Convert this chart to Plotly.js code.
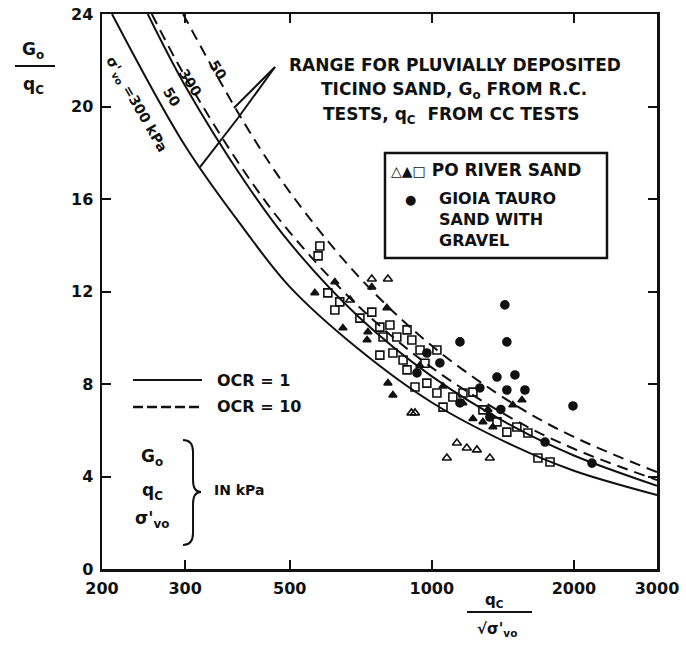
<!DOCTYPE html>
<html><head><meta charset="utf-8">
<script src="https://cdn.plot.ly/plotly-3.0.1.min.js"></script>
<style>body{margin:0;background:#fff}#c{width:686px;height:656px}</style>
</head><body><div id="c"></div>
<script>
// x tick labels
const xTicks = [200, 300, 500, 1000, 2000, 3000];
const yTicks = [0, 4, 8, 12, 16, 20, 24];

// Curves (Ticino sand range)
const curveX_L  = [210, 300, 400, 500, 700, 1000, 1500, 2000, 3000];   // sigma'vo=300, OCR=1
const curveY_L  = [24.0, 18.3, 14.7, 12.2, 9.5, 7.2, 5.3, 4.25, 3.2];
const curveX_M  = [250, 300, 400, 500, 700, 1000, 1500, 2000, 3000];   // sigma'vo=50, OCR=1
const curveY_M  = [24.0, 20.9, 16.8, 14.1, 10.9, 8.33, 6.12, 4.91, 3.6];
const curveX_D3 = [255, 300, 400, 500, 700, 1000, 1500, 2000, 3000];   // sigma'vo=300, OCR=10
const curveY_D3 = [24.0, 21.3, 17.2, 14.56, 11.35, 8.71, 6.44, 5.2, 3.85];
const curveX_D5 = [297, 400, 500, 700, 1000, 1500, 2000, 3000];        // sigma'vo=50, OCR=10
const curveY_D5 = [24.0, 19.3, 16.3, 12.64, 9.65, 7.1, 5.71, 4.19];

// Po river sand - open triangles
const triOpenX = [746, 807, 921, 905, 1130, 1186, 1246, 1076, 1327, 671];
const triOpenY = [12.54, 12.54, 6.75, 6.75, 5.45, 5.23, 5.15, 4.80, 4.80, 11.63];
// Po river sand - filled triangles
const triFillX = [623, 565, 648, 803, 732, 729, 807, 827, 746, 1485, 1552, 1283, 1347, 1164, 1056, 943, 1315, 1222];
const triFillY = [12.41, 11.94, 10.42, 11.29, 10.25, 9.90, 8.04, 7.52, 12.19, 7.09, 7.31, 6.36, 6.14, 7.18, 7.9, 8.8, 6.9, 6.5];
// Po river sand - open squares
const sqX = [579, 574, 602, 623, 704, 746, 776, 815, 886, 788, 843, 907, 944, 1025, 776, 827, 869, 886, 976, 921, 1025, 1108, 1164, 1222, 1283, 1374, 1514, 1598, 1442, 1678, 1780, 638, 1056, 967];
const sqY = [13.97, 13.54, 11.94, 11.20, 10.85, 11.11, 10.46, 10.55, 10.34, 10.03, 10.03, 9.90, 9.47, 9.47, 9.25, 9.34, 9.04, 8.61, 8.04, 7.87, 7.61, 7.44, 7.61, 7.65, 6.88, 6.36, 6.14, 5.88, 5.92, 4.80, 4.63, 11.55, 7.0, 8.9];
// Gioia Tauro sand with gravel - filled circles
const gtX = [1428, 1442, 1147, 1374, 1500, 1442, 1575, 1264, 1991, 1737, 2184, 976, 1040, 930, 1147, 1327, 1400];
const gtY = [11.42, 9.82, 9.82, 8.30, 8.39, 7.74, 7.74, 7.83, 7.05, 5.49, 4.58, 9.34, 8.91, 8.48, 7.18, 6.57, 6.9];

const K = '#111';
function curve(x, y, dash) {
  return {x: x, y: y, mode: 'lines', type: 'scatter', hoverinfo: 'skip',
    line: {color: K, width: 2, dash: dash, shape: 'spline', smoothing: 1}};
}
function pts(x, y, sym, size) {
  return {x: x, y: y, mode: 'markers', type: 'scatter',
    marker: {symbol: sym, size: size, color: K, line: {color: K, width: 1.6}}};
}
const data = [
  curve(curveX_L, curveY_L, 'solid'),
  curve(curveX_M, curveY_M, 'solid'),
  curve(curveX_D3, curveY_D3, '11px,7px'),
  curve(curveX_D5, curveY_D5, '11px,7px'),
  pts(sqX, sqY, 'square-open', 8),
  pts(triOpenX, triOpenY, 'triangle-up-open', 8),
  pts(triFillX, triFillY, 'triangle-up', 7),
  pts(gtX, gtY, 'circle', 8)
];

const FAM = 'DejaVu Sans, Verdana, sans-serif';
const F = {family: FAM, size: 17, color: K, weight: 'bold'};
function ann(text, x, y, opts) {
  return Object.assign({text: text, x: x, y: y, xref: 'paper', yref: 'paper', showarrow: false,
    font: F, xanchor: 'center', yanchor: 'middle'}, opts || {});
}
function fs(size) { return Object.assign({}, F, {size: size}); }

const annotations = [
  ann('RANGE FOR PLUVIALLY DEPOSITED', 0.636, 0.908),
  ann('TICINO SAND, G<sub>o</sub> FROM R.C.', 0.634, 0.863),
  ann('TESTS, q<sub>C</sub>  FROM CC TESTS', 0.630, 0.818),
  ann('<span style="font-size:14px">△▲□</span> PO RIVER SAND', 0.517, 0.719, {xanchor: 'left'}),
  ann('●', 0.555, 0.665, {font: fs(13)}),
  ann('GIOIA TAURO<br>SAND WITH<br>GRAVEL', 0.604, 0.629, {xanchor: 'left', align: 'left', font: fs(16)}),
  ann('OCR = 1', 0.203, 0.3405, {xanchor: 'left', font: fs(16)}),
  ann('OCR = 10', 0.203, 0.2919, {xanchor: 'left', font: fs(16)}),
  ann('G<sub>o</sub>', 0.0901, 0.2018, {font: fs(17)}),
  ann('q<sub>C</sub>', 0.0901, 0.1405, {font: fs(17)}),
  ann('σ\'<sub>vo</sub>', 0.0901, 0.0883, {font: fs(17)}),
  ann('IN kPa', 0.198, 0.1423, {xanchor: 'left', font: fs(14)}),
  ann('σ\'<sub>vo</sub> =300 kPa', 0.062, 0.836, {textangle: 60, font: fs(14)}),
  ann('300', 0.1586, 0.8775, {textangle: 58, font: fs(14)}),
  ann('50', 0.1261, 0.8505, {textangle: 58, font: fs(14)}),
  ann('50', 0.209, 0.899, {textangle: 58, font: fs(14)}),
  ann('G<sub>o</sub>', -0.1243, 0.9351, {font: fs(17)}),
  ann('q<sub>C</sub>', -0.1243, 0.8703, {font: fs(17)}),
  ann('q<sub>C</sub>', 0.7081, -0.0559, {font: fs(15)}),
  ann('√σ\'<sub>vo</sub>', 0.7117, -0.1099, {font: fs(15)})
];

const LN = {color: K, width: 2};
const shapes = [
  // pointer lines from the range text to the curves
  {type: 'line', xref: 'paper', yref: 'paper', x0: 0.3117, y0: 0.9045, x1: 0.2378, y1: 0.8306, line: LN},
  {type: 'line', xref: 'paper', yref: 'paper', x0: 0.3117, y0: 0.9045, x1: 0.2450, y1: 0.8126, line: LN},
  {type: 'line', xref: 'paper', yref: 'paper', x0: 0.2450, y0: 0.8126, x1: 0.1766, y1: 0.7243, line: LN},
  // legend box
  {type: 'rect', xref: 'paper', yref: 'paper', x0: 0.5099, y0: 0.5604, x1: 0.9099, y1: 0.7495, line: {color: K, width: 2.5}},
  // OCR key lines
  {type: 'line', xref: 'paper', yref: 'paper', x0: 0.0559, y0: 0.3405, x1: 0.1802, y1: 0.3405, line: LN},
  {type: 'line', xref: 'paper', yref: 'paper', x0: 0.0559, y0: 0.2919, x1: 0.1802, y1: 0.2919, line: {color: K, width: 2.5, dash: '10px,4px'}},
  // brace
  {type: 'path', xref: 'paper', yref: 'paper', line: LN,
   path: 'M 0.1459 0.2324 Q 0.1640 0.2324 0.1640 0.2108 L 0.1640 0.1604 Q 0.1640 0.1387 0.1784 0.1387 Q 0.1640 0.1387 0.1640 0.1171 L 0.1640 0.0649 Q 0.1640 0.0432 0.1459 0.0432'},
  // axis-title fraction bars
  {type: 'line', xref: 'paper', yref: 'paper', x0: -0.1568, y0: 0.9063, x1: -0.0847, y1: 0.9063, line: LN},
  {type: 'line', xref: 'paper', yref: 'paper', x0: 0.6577, y0: -0.0775, x1: 0.7748, y1: -0.0775, line: LN}
];

const axisCommon = {showgrid: false, zeroline: false, showline: true, linecolor: K, linewidth: 2.5,
  mirror: 'ticks', ticks: 'inside', ticklen: 9, tickwidth: 2, tickcolor: K,
  tickfont: {family: FAM, size: 16, color: K, weight: 'bold'}};

const layout = {
  width: 686, height: 656, showlegend: false,
  paper_bgcolor: '#fff', plot_bgcolor: '#fff',
  margin: {l: 102, r: 29, t: 14, b: 87},
  xaxis: Object.assign({}, axisCommon, {type: 'log', range: [Math.log10(200), Math.log10(3000)],
    tickmode: 'array', tickvals: xTicks, ticktext: xTicks.map(String), ticklabelstandoff: 3}),
  yaxis: Object.assign({}, axisCommon, {range: [0, 24], tickmode: 'array', tickvals: yTicks, ticktext: yTicks.map(String), ticklabelstandoff: 3}),
  annotations: annotations, shapes: shapes
};
Plotly.newPlot('c', data, layout, {displayModeBar: false, staticPlot: true});
</script></body></html>
